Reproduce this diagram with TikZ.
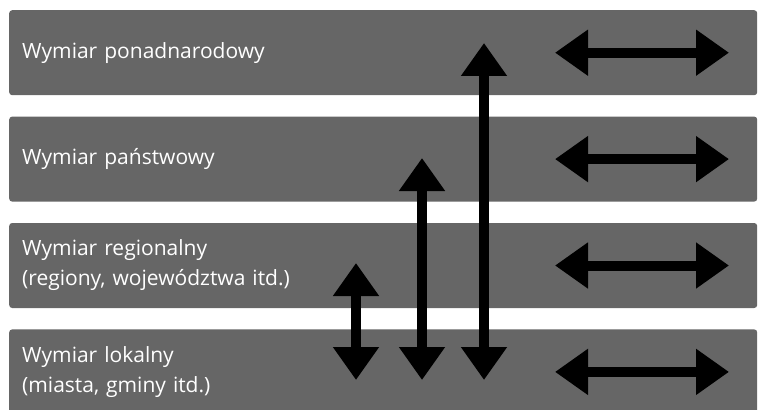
\documentclass[tikz,border=0pt]{standalone}
\usepackage{fontspec}
\setmainfont{Open Sans}
\usetikzlibrary{arrows.meta, positioning, calc}

\definecolor{bandgray}{RGB}{102,102,102}

\begin{document}
\begin{tikzpicture}[x=1pt, y=-1pt, node distance=21pt, >={Triangle[length=33pt,width=44pt]},
    band/.style={fill=bandgray, text=white, rounded corners=3pt, minimum height=85pt,
        text width=722pt, inner xsep=13pt, inner ysep=0pt, align=left,
        font=\fontsize{21}{30}\selectfont},
    link/.style={<->, line width=10pt}]
        \useasboundingbox (0,0) rectangle (759,409);

        % Levels
        \node[band, anchor=north west] (ponad) at (9,10) {Wymiar ponadnarodowy};
        \node[band, below=of ponad] (panst) {Wymiar państwowy};
        \node[band, below=of panst] (region) {Wymiar regionalny\\(regiony, województwa itd.)};
        \node[band, below=of region] (lokal) {Wymiar lokalny\\(miasta, gminy itd.)};

        % Links within each level
        \foreach \b in {ponad, panst, region, lokal} {
            \coordinate (\b-l) at ($(\b.west)+(546,0)$);
            \coordinate (\b-r) at ($(\b.west)+(720,0)$);
            \draw[link] (\b-l) -- (\b-r);
        }

        % Links between levels
        \coordinate (lo1) at (356,380);
        \coordinate (hi1) at (356,263);
        \coordinate (lo2) at (422,380);
        \coordinate (hi2) at (422,158);
        \coordinate (lo3) at (484,380);
        \coordinate (hi3) at (484,43);
        \draw[link] (lo1) -- (hi1);
        \draw[link] (lo2) -- (hi2);
        \draw[link] (lo3) -- (hi3);
    \end{tikzpicture}
\end{document}
